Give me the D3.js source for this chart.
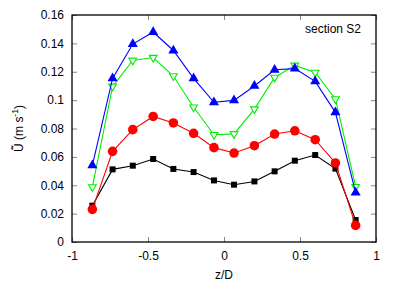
<!DOCTYPE html>
<html>
<head>
<meta charset="utf-8">
<script src="https://cdn.jsdelivr.net/npm/d3@7"></script>
<style>
  body { margin: 0; background: #fff; }
  svg { display: block; font-family: "Liberation Sans", Arial, sans-serif; }
</style>
</head>
<body>
<div id="chart"></div>
<script>
// z/D positions of the measurement points
const zPos = [-0.866, -0.733, -0.6, -0.466, -0.333, -0.2, -0.066, 0.066, 0.2, 0.333, 0.466, 0.6, 0.733, 0.866];

// mean velocity per series (m/s)
const blueVals  = [0.054, 0.1153, 0.1395, 0.148, 0.135, 0.1153, 0.0985, 0.0998, 0.110, 0.1214, 0.1222, 0.1132, 0.0914, 0.0348];
const greenVals = [0.0388, 0.1097, 0.128, 0.130, 0.117, 0.095, 0.0756, 0.0762, 0.0937, 0.116, 0.1245, 0.1195, 0.1008, 0.039];
const redVals   = [0.023, 0.0639, 0.0792, 0.0885, 0.0839, 0.0766, 0.0665, 0.0627, 0.0679, 0.0761, 0.0784, 0.0721, 0.0557, 0.0117];
const blackVals = [0.0256, 0.0512, 0.0538, 0.0585, 0.0515, 0.0493, 0.0434, 0.0404, 0.0427, 0.0498, 0.0573, 0.0613, 0.0517, 0.0155];

const xTicks = [-1, -0.5, 0, 0.5, 1];
const yTicks = [0, 0.02, 0.04, 0.06, 0.08, 0.1, 0.12, 0.14, 0.16];

const W = 407, H = 285;
const margin = { left: 72, right: 31, top: 15, bottom: 43 };

const svg = d3.select("#chart").append("svg")
  .attr("width", W)
  .attr("height", H);

const x = d3.scaleLinear().domain([-1, 1]).range([margin.left, W - margin.right]);
const y = d3.scaleLinear().domain([0, 0.16]).range([H - margin.bottom, margin.top]);

const fmt = d => (d === 0 ? "0" : String(d));

// axes with inward ticks, mirrored on top and right
const tickLen = 5;
svg.append("g")
  .attr("transform", `translate(0,${y(0)})`)
  .call(d3.axisBottom(x).tickValues(xTicks).tickFormat(fmt).tickSizeInner(-tickLen).tickSizeOuter(0).tickPadding(9))
  .call(g => g.select(".domain").remove());
svg.append("g")
  .attr("transform", `translate(0,${y(0.16)})`)
  .call(d3.axisTop(x).tickValues(xTicks).tickFormat("").tickSizeInner(-tickLen).tickSizeOuter(0))
  .call(g => g.select(".domain").remove());
svg.append("g")
  .attr("transform", `translate(${x(-1)},0)`)
  .call(d3.axisLeft(y).tickValues(yTicks).tickFormat(fmt).tickSizeInner(-tickLen).tickSizeOuter(0).tickPadding(8))
  .call(g => g.select(".domain").remove());
svg.append("g")
  .attr("transform", `translate(${x(1)},0)`)
  .call(d3.axisRight(y).tickValues(yTicks).tickFormat("").tickSizeInner(-tickLen).tickSizeOuter(0))
  .call(g => g.select(".domain").remove());

svg.selectAll(".tick text")
  .attr("font-size", 12)
  .attr("font-family", "Liberation Sans, Arial, sans-serif")
  .attr("fill", "#000");
svg.selectAll(".tick line").attr("stroke", "#888");

// frame
svg.append("rect")
  .attr("x", x(-1)).attr("y", y(0.16))
  .attr("width", x(1) - x(-1)).attr("height", y(0) - y(0.16))
  .attr("fill", "none").attr("stroke", "#000").attr("stroke-width", 1.3);

const series = [
  { vals: blackVals, color: "#000000", sym: d3.symbolSquare, size: 36, fill: true },
  { vals: redVals,   color: "#ff0000", sym: d3.symbolCircle, size: 72, fill: true },
  { vals: greenVals, color: "#00ee00", sym: d3.symbolTriangle, size: 26, fill: false, flip: true },
  { vals: blueVals,  color: "#0000ff", sym: d3.symbolTriangle, size: 44, fill: true }
];

const line = d3.line()
  .x((d, i) => x(zPos[i]))
  .y(d => y(d));

series.forEach(s => {
  svg.append("path")
    .datum(s.vals)
    .attr("d", line)
    .attr("fill", "none")
    .attr("stroke", s.color)
    .attr("stroke-width", 1.1);

  svg.append("g").selectAll("path")
    .data(s.vals)
    .join("path")
    .attr("d", d3.symbol().type(s.sym).size(s.size))
    .attr("transform", (d, i) => `translate(${x(zPos[i])},${y(d)})${s.flip ? " rotate(180)" : ""}`)
    .attr("fill", s.fill ? s.color : "#fff")
    .attr("stroke", s.color)
    .attr("stroke-width", s.fill ? 0 : 1.1);
});

// labels
svg.append("text")
  .attr("x", (x(-1) + x(1)) / 2)
  .attr("y", 279)
  .attr("text-anchor", "middle")
  .attr("font-size", 12)
  .text("z/D");

svg.append("text")
  .attr("transform", `translate(23,${(y(0) + y(0.16)) / 2}) rotate(-90)`)
  .attr("text-anchor", "middle")
  .attr("font-size", 12)
  .call(t => {
    t.append("tspan").text("U\u0304\u0303 (m s");
    t.append("tspan").attr("dy", -5).attr("font-size", 8.5).text("-1");
    t.append("tspan").attr("dy", 5).text(")");
  });

svg.append("text")
  .attr("x", 361)
  .attr("y", 33)
  .attr("text-anchor", "end")
  .attr("font-size", 12)
  .text("section S2");
</script>
</body>
</html>
